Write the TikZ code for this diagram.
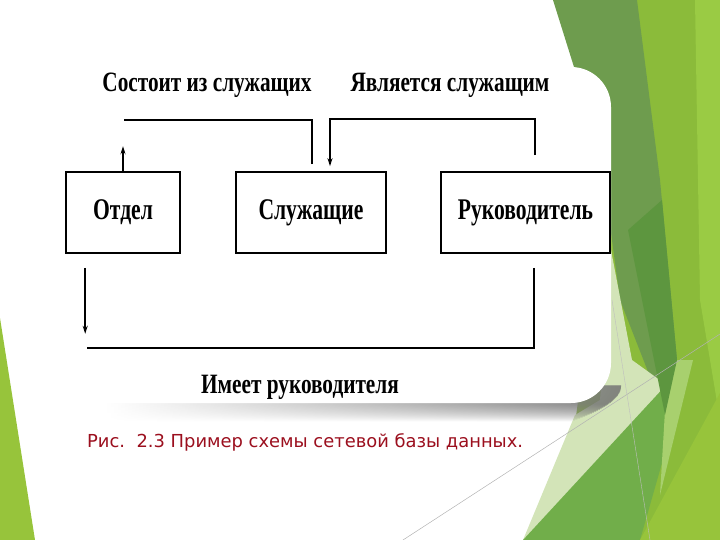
\documentclass[tikz,border=0pt]{standalone}
\usepackage{fontspec}
\usetikzlibrary{arrows.meta, calc}
\newfontfamily\diagfont[FakeStretch=0.72]{Liberation Serif}
\newfontfamily\lblfont[FakeStretch=0.76]{Liberation Serif}
\newfontfamily\capfont{DejaVu Sans}

\definecolor{gbright}{RGB}{139,187,58}
\definecolor{glight}{RGB}{154,203,68}
\definecolor{gmuted}{RGB}{110,156,78}
\definecolor{gdark}{RGB}{93,150,63}
\definecolor{gpale}{RGB}{211,228,184}
\definecolor{gmid}{RGB}{113,174,74}
\definecolor{gband}{RGB}{168,208,110}
\definecolor{gyellow}{RGB}{151,196,59}
\definecolor{capred}{RGB}{155,15,30}

\begin{document}
\begin{tikzpicture}[x=1pt, y=-1pt,
  box/.style={draw, line width=1.6pt, minimum height=81pt, inner sep=0pt,
    font=\diagfont\bfseries\fontsize{30}{30}\selectfont},
  link/.style={line width=1.6pt},
  arr/.style={link, -{Stealth[length=8pt, width=5pt]}},
  lbl/.style={anchor=base, inner sep=0pt, font=\lblfont\bfseries\fontsize{28}{28}\selectfont}
]
\useasboundingbox (0,0) rectangle (720,540);

% background facets
\fill[gbright] (630,0) -- (720,0) -- (720,540) -- (560,540) -- cycle;
\fill[glight] (695,0) -- (720,0) -- (720,420) -- (700,300) -- cycle;
\fill[gmuted] (553,0) -- (637,0) -- (660,180) -- (677,360) -- (665,415) -- (620,300) -- (600,150) -- cycle;
\fill[gpale] (611,250) -- (632,360) -- (668,386) -- (523,540) -- (575,415) -- (600,400) -- cycle;
\fill[gmid] (523,540) -- (668,383) -- (680,400) -- (640,540) -- cycle;
\fill[gband] (668,360) -- (693,360) -- (660,495) -- cycle;
\fill[gdark] (628,230) -- (662,200) -- (677,360) -- (665,415) -- cycle;
\fill[gyellow] (640,540) -- (720,393) -- (720,540) -- cycle;
\fill[gyellow] (0,318) -- (35,540) -- (0,540) -- cycle;
\draw[gray!60, line width=0.5pt] (403,540) -- (720,334);
\draw[gray!50, line width=0.4pt] (612,300) -- (650,540);

% panel with shadow
\foreach \i in {0,...,35}{
  \pgfmathsetmacro\op{0.6*(1-max(0,\i-18)/18)}
  \pgfmathsetmacro\rx{621-0.04*\i*\i}
  \shade[left color=white, right color=black!55, opacity=\op]
    (105,385+\i) rectangle (\rx,386+\i);
}
\fill[white, rounded corners=40pt] (60,67) rectangle (611,403);

% boxes
\node[box, minimum width=114pt] (otdel) at (123,212.5) {Отдел};
\node[box, minimum width=150pt] (sluzh) at (311,212.5) {Служащие};
\node[box, minimum width=169pt] (ruk)   at (525.5,212.5) {Руководитель};

% connectors
\coordinate (sTop) at (124,120);
\coordinate (rTop) at (535,119);
\draw[link] ($(sluzh.north)+(1,-7)$) |- (sTop);
\draw[arr] (otdel.north) -- ++(0,-25);
\draw[arr] ($(ruk.north)+(9.5,-16)$) -- (rTop) -| ($(sluzh.north)+(19,-5)$);
\draw[arr] ($(otdel.south west)+(20,14)$) -- ++(0,66);
\coordinate (bLeft) at (87,348);
\draw[link] ($(ruk.south west)+(94,14)$) |- (bLeft);

% labels
\node[lbl] (consist) at (207,92) {Состоит из служащих};
\node[lbl] (isemp)   at (450,92) {Является служащим};
\node[lbl] (hasman)  at (300,393) {Имеет руководителя};

\node[anchor=base west, inner sep=0pt, text=capred, font=\capfont\fontsize{17.9}{17.9}\selectfont]
  (caption) at (87,447) {Рис.\ \ 2.3 Пример схемы сетевой базы данных.};
\end{tikzpicture}
\end{document}
